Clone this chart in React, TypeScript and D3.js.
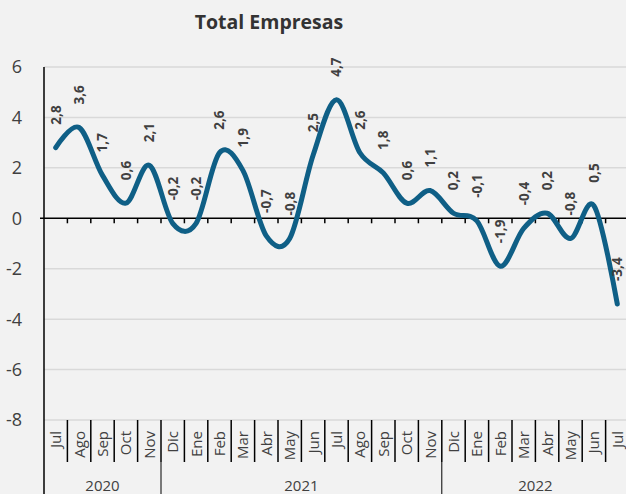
import React from "react";
import * as d3 from "d3";

const months = ["Jul","Ago","Sep","Oct","Nov","Dic","Ene","Feb","Mar","Abr","May","Jun","Jul","Ago","Sep","Oct","Nov","Dic","Ene","Feb","Mar","Abr","May","Jun","Jul"];
const values = [2.8,3.6,1.7,0.6,2.1,-0.2,-0.2,2.6,1.9,-0.7,-0.8,2.5,4.7,2.6,1.8,0.6,1.1,0.2,-0.1,-1.9,-0.4,0.2,-0.8,0.5,-3.4];
const years = ["2020","2021","2022"];
const yearCounts = [5,12,8];
const yTicks = [6,4,2,0,-2,-4,-6,-8];

const W = 626, H = 494;
const FONT = "'Open Sans', 'DejaVu Sans', sans-serif";
const TXT = "#404040";
const LINE = "#0f5f86";

export default function App() {
  const x = d3.scaleBand<number>().domain(d3.range(months.length)).range([44, 629]).padding(0);
  const y = d3.scaleLinear().domain([-8, 6]).range([420, 67]);
  const bw = x.bandwidth();
  const cx = (i: number) => (x(i) as number) + bw / 2;
  const line = d3.line<number>().x((_, i) => cx(i)).y((d) => y(d)).curve(d3.curveCardinal.tension(0));
  const fmt = (v: number) => v.toFixed(1).replace(".", ",");

  const yearStarts: number[] = [];
  let acc = 0;
  yearCounts.forEach((c) => { yearStarts.push(acc); acc += c; });

  return (
    <svg width={W} height={H} style={{ position: "absolute", left: 0, top: 0, display: "block" }} fontFamily={FONT}>
      <rect x={0} y={0} width={W} height={H} fill="#f2f2f2" />
      <text x={269} y={29} textAnchor="middle" fontSize={19.5} fontWeight="bold" fill="#333">Total Empresas</text>
      {yTicks.filter((t) => t !== 0).map((t) => (
        <line key={"g" + t} x1={44} x2={W} y1={y(t)} y2={y(t)} stroke="#d9d9d9" strokeWidth={1.5} />
      ))}
      {yTicks.map((t) => (
        <text key={"yt" + t} x={22} y={y(t)} dy="0.36em" textAnchor="end" fontSize={18} fill={TXT}>{t}</text>
      ))}
      {/* zero axis */}
      <line x1={40} x2={W} y1={y(0)} y2={y(0)} stroke="#000" strokeWidth={1.5} />
      {d3.range(1, months.length + 1).map((k) => {
        const xx = 44 + k * bw;
        return <line key={"tk" + k} x1={xx} x2={xx} y1={y(0)} y2={y(0) + 5} stroke="#000" strokeWidth={1.5} />;
      })}
      {/* y axis */}
      <line x1={44} x2={44} y1={67} y2={H} stroke="#000" strokeWidth={1.5} />
      {/* month separators */}
      {d3.range(1, months.length + 1).map((k) => {
        const xx = 44 + k * bw;
        return <line key={"ms" + k} x1={xx} x2={xx} y1={420} y2={462} stroke="#000" strokeWidth={1.5} />;
      })}
      {yearStarts.slice(1).map((s) => {
        const xx = 44 + s * bw;
        return <line key={"ys" + s} x1={xx} x2={xx} y1={462} y2={H} stroke="#000" strokeWidth={1} />;
      })}
      {months.map((m, i) => (
        <text key={"m" + i} transform={`translate(${cx(i)},431) rotate(-90)`} textAnchor="end" dy="0.36em" fontSize={15} fill={TXT}>{m}</text>
      ))}
      {years.map((yr, j) => {
        const mid = 44 + (yearStarts[j] + yearCounts[j] / 2) * bw;
        return <text key={"y" + yr} x={mid} y={491} textAnchor="middle" fontSize={15} fill={TXT}>{yr}</text>;
      })}
      <path d={line(values) || ""} fill="none" stroke={LINE} strokeWidth={5} strokeLinejoin="round" strokeLinecap="round" />
      {values.map((v, i) => (
        <text key={"l" + i} transform={`translate(${cx(i)},${y(v) - 23}) rotate(-90)`} textAnchor="start" dy="0.36em" fontSize={13.5} fontWeight="bold" fill={TXT}>{fmt(v)}</text>
      ))}
    </svg>
  );
}
